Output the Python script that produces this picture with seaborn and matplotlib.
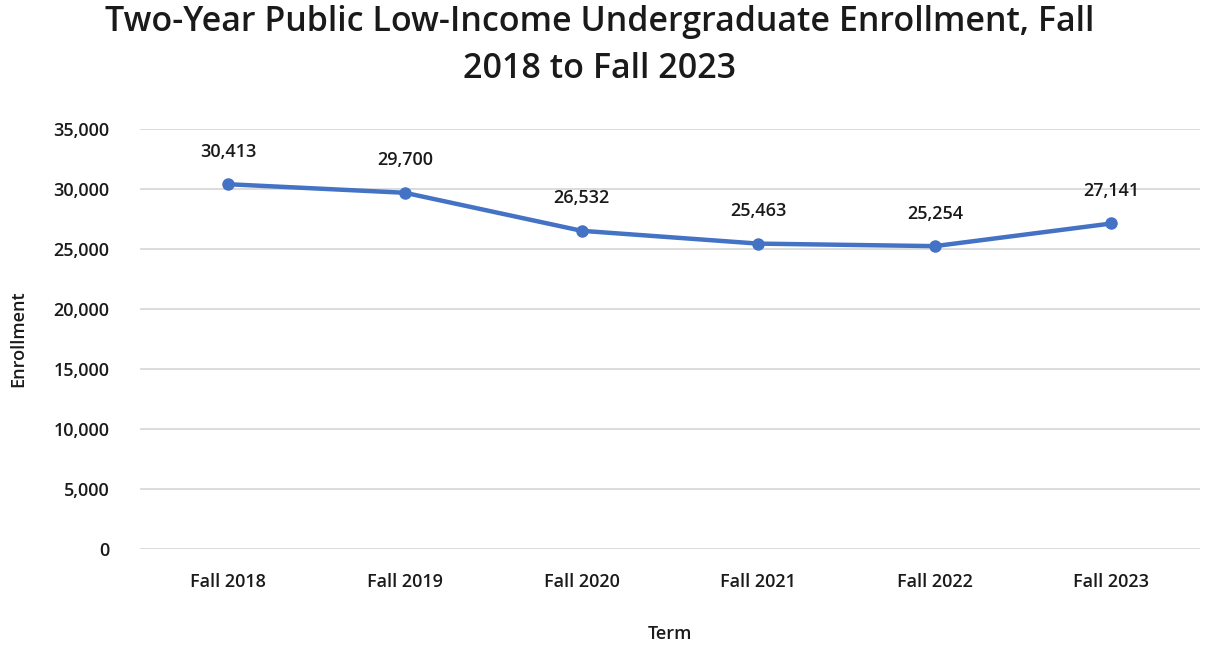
import matplotlib
matplotlib.use("Agg")
import matplotlib.pyplot as plt
import seaborn as sns
import pandas as pd

terms = ["Fall 2018", "Fall 2019", "Fall 2020", "Fall 2021", "Fall 2022", "Fall 2023"]
enrollment = [30413, 29700, 26532, 25463, 25254, 27141]
y_ticks = [0, 5000, 10000, 15000, 20000, 25000, 30000, 35000]

sns.set_theme(style="white")
plt.rcParams["font.family"] = ["Open Sans", "DejaVu Sans"]
plt.rcParams["font.weight"] = "semibold"

df = pd.DataFrame({"Term": terms, "Enrollment": enrollment})
df["pos"] = range(len(terms))

fig = plt.figure(figsize=(12.07, 6.46), dpi=100)
ax = fig.add_axes([0.116, 0.150, 0.878, 0.650])

sns.lineplot(data=df, x="pos", y="Enrollment", ax=ax, color="#4472C4",
             linewidth=3.2, marker="o", markersize=9, markeredgewidth=0)

for x, y in zip(df["pos"], df["Enrollment"]):
    ax.annotate(f"{y:,}", (x, y), xytext=(0, 17), textcoords="offset points",
                ha="center", va="bottom", fontsize=13, color="#1a1a1a",
                fontweight="semibold")

ax.set_xlim(-0.5, len(terms) - 0.5)
ax.set_ylim(0, 35000)
ax.set_xticks(df["pos"])
ax.set_xticklabels(terms, fontweight="semibold")
ax.set_yticks(y_ticks)
ax.set_yticklabels([f"{v:,}" for v in y_ticks], fontweight="semibold")
ax.tick_params(axis="both", labelsize=13, colors="#1a1a1a", length=0)
ax.tick_params(axis="x", pad=17)
ax.tick_params(axis="y", pad=22)

ax.grid(axis="y", color="#d9d9d9", linewidth=1.3)
ax.set_axisbelow(True)
for s in ax.spines.values():
    s.set_visible(False)

ax.set_xlabel("Term", fontsize=13, color="#1a1a1a", labelpad=25, fontweight="semibold")
ax.set_ylabel("Enrollment", fontsize=13, color="#1a1a1a", labelpad=19, fontweight="semibold")

fig.suptitle("Two-Year Public Low-Income Undergraduate Enrollment, Fall\n2018 to Fall 2023",
             x=0.497, y=0.992, fontsize=24.5, color="#1a1a1a", linespacing=1.5,
             va="top", fontweight="semibold")

fig.savefig("out.png", dpi=100, facecolor="white")
